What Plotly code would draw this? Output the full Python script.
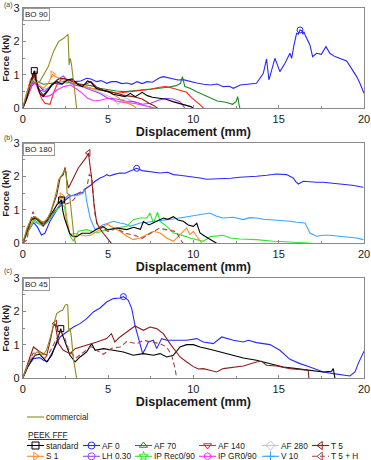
import plotly.graph_objects as go

# ======================= DATA =======================
# ---- panel (a) BO 90 ----
A_COMM_X = [0, 0.25, 0.55, 0.75, 1.0, 1.3, 1.5, 1.8, 2.1, 2.4, 2.58, 2.66, 2.72, 2.78, 2.85, 2.92, 3.05, 3.16]
A_COMM_Y = [0, 0.45, 0.85, 0.75, 0.8, 1.05, 1.25, 1.7, 2.0, 2.1, 2.2, 2.22, 1.3, 1.5, 1.35, 1.1, 0.5, 0]
A_STD_X = [0, 0.2, 0.45, 0.68, 0.8, 1.0, 1.2, 1.45, 1.7, 2.0, 2.3, 2.6, 2.9, 3.2, 3.5, 3.8, 4.0, 4.3, 4.6, 5.0, 5.3, 5.6,
           6.0, 6.3, 6.6, 7.0, 7.3, 7.6, 8.0, 8.4, 8.8, 9.2, 9.6, 9.85, 10.0]
A_STD_Y = [0, 0.25, 0.75, 1.13, 0.8, 0.45, 0.35, 0.5, 0.7, 0.8, 0.72, 0.85, 0.88, 0.72, 0.65, 0.82, 0.78, 0.6, 0.55, 0.5,
           0.42, 0.38, 0.35, 0.45, 0.35, 0.48, 0.38, 0.33, 0.3, 0.27, 0.2, 0.15, 0.1, 0.05, 0]
A_AF0_X = [0, 0.25, 0.5, 0.7, 0.9, 1.2, 1.5, 1.8, 2.2, 2.6, 3.0, 3.4, 3.75, 4.0, 4.34, 4.6, 4.92, 5.2, 5.5, 5.8, 6.1, 6.4,
           6.7, 7.0, 7.3, 7.6, 7.85, 8.05, 8.25, 8.5, 8.85, 9.1, 9.4, 9.8, 10.2, 10.6, 11.0, 11.4, 11.75, 12.1, 12.35,
           12.75, 13.2, 13.7, 14.1, 14.29, 14.43, 14.6, 14.78, 15.07, 15.37, 15.66, 15.76, 15.9, 16.05, 16.15, 16.25,
           16.35, 16.42, 16.48, 16.55, 16.83, 16.99, 17.22, 17.5, 17.77, 18.0, 18.3, 18.6, 18.98, 19.2, 19.57, 19.76, 20.0]
A_AF0_Y = [0, 0.35, 0.65, 0.78, 0.7, 0.55, 0.6, 0.75, 0.72, 0.85, 0.8, 0.82, 0.9, 0.88, 0.8, 0.83, 0.75, 0.8, 0.8, 0.74,
           0.76, 0.72, 0.8, 0.74, 0.8, 0.78, 0.85, 0.92, 0.95, 0.92, 0.9, 0.85, 0.86, 0.8, 0.76, 0.72, 0.7, 0.73, 0.65,
           0.66, 0.6, 0.7, 0.72, 0.75, 1.05, 1.48, 0.85, 1.2, 1.5, 1.1, 1.35, 1.65, 1.5, 1.9, 2.25, 2.22, 2.35, 2.33,
           2.22, 2.3, 2.2, 1.9, 1.55, 1.65, 1.62, 1.85, 1.65, 1.55, 1.5, 1.42, 1.25, 0.95, 0.75, 0.45]
A_AF70_X = [0, 0.25, 0.5, 0.7, 0.9, 1.2, 1.6, 2.0, 2.5, 3.0, 3.5, 4.0, 4.5, 5.0, 5.5, 6.0, 6.5, 7.0, 7.5, 8.0, 8.5, 9.0,
            9.25, 9.36, 9.5, 9.8, 10.2, 10.6, 11.0, 11.4, 11.9, 12.3, 12.5, 12.6, 12.68, 12.73]
A_AF70_Y = [0, 0.3, 0.65, 0.9, 0.8, 0.72, 0.75, 0.78, 0.8, 0.75, 0.72, 0.68, 0.6, 0.55, 0.52, 0.5, 0.52, 0.55, 0.57, 0.6,
            0.63, 0.68, 0.75, 0.95, 0.65, 0.6, 0.5, 0.4, 0.32, 0.22, 0.18, 0.12, 0.2, 0.35, 0.1, 0]
A_AF140_X = [0, 0.2, 0.45, 0.7, 0.9, 1.1, 1.3, 1.6, 1.8, 2.0, 2.3, 2.6, 3.0, 3.3, 3.6, 4.0, 4.5, 5.0, 5.5, 6.0, 6.5, 7.0,
             7.5, 8.0, 8.4, 8.8, 9.2, 9.6, 9.9, 10.2, 10.45, 10.6]
A_AF140_Y = [0, 0.35, 0.85, 1.05, 0.6, 0.3, 0.15, 0.12, 0.45, 0.7, 0.9, 0.85, 0.8, 0.7, 0.65, 0.6, 0.55, 0.52, 0.45, 0.48,
             0.5, 0.55, 0.57, 0.63, 0.65, 0.6, 0.55, 0.48, 0.32, 0.2, 0.08, 0]
A_AF280_X = [0, 0.3, 0.7, 1.0, 1.3, 1.7, 2.0, 2.5, 3.0, 3.5, 4.0, 4.5, 5.0, 5.3, 5.6, 5.8, 6.1, 6.5, 7.0, 7.4, 7.6]
A_AF280_Y = [0, 0.45, 0.95, 0.7, 0.55, 0.7, 0.8, 0.75, 0.72, 0.65, 0.6, 0.48, 0.38, 0.3, 0.12, 0.25, 0.3, 0.2, 0.12, 0.05, 0]
A_T5_X = [0, 0.25, 0.5, 0.7, 0.9, 1.2, 1.5, 1.8, 2.1, 2.4, 2.7, 3.0, 3.3, 3.6, 4.0, 4.3, 4.7, 5.0, 5.5, 6.0, 6.5, 7.0, 7.4,
          7.7, 7.9]
A_T5_Y = [0, 0.3, 0.8, 1.0, 0.6, 0.4, 0.55, 0.75, 0.88, 0.9, 0.85, 0.8, 0.72, 0.7, 0.8, 0.65, 0.55, 0.5, 0.45, 0.38, 0.35,
          0.28, 0.15, 0.08, 0]
A_S1_X = [0, 0.2, 0.5, 0.7, 0.9, 1.2, 1.5, 1.75, 1.9, 2.1, 2.4, 2.8, 3.2, 3.6, 4.0, 4.5, 5.0, 5.3, 5.6, 5.9, 6.2, 6.5, 6.65]
A_S1_Y = [0, 0.4, 0.85, 0.9, 0.7, 0.6, 0.75, 1.02, 0.95, 0.9, 0.85, 0.8, 0.75, 0.65, 0.6, 0.55, 0.5, 0.42, 0.32, 0.2, 0.15,
          0.08, 0]
A_LH_X = [0, 0.3, 0.6, 0.8, 1.0, 1.3, 1.7, 2.0, 2.38, 2.7, 3.0, 3.5, 4.0, 4.5, 5.0, 5.5, 6.0, 6.5, 7.0, 7.5, 8.0, 8.4, 8.8,
          9.2, 9.4, 9.5]
A_LH_Y = [0, 0.45, 0.8, 0.75, 0.55, 0.5, 0.7, 0.85, 0.97, 0.8, 0.7, 0.65, 0.55, 0.45, 0.3, 0.28, 0.22, 0.2, 0.12, 0.15, 0.25,
          0.3, 0.28, 0.2, 0.08, 0]
A_GR_X = [0, 0.3, 0.55, 0.75, 1.0, 1.3, 1.6, 2.0, 2.4, 2.8, 3.1, 3.5, 3.8, 4.2, 4.6, 5.0, 5.5, 6.0, 6.5, 7.0, 7.5, 7.8]
A_GR_Y = [0, 0.35, 0.7, 0.75, 0.45, 0.35, 0.38, 0.55, 0.65, 0.7, 0.6, 0.45, 0.3, 0.22, 0.25, 0.3, 0.22, 0.17, 0.15, 0.1,
          0.05, 0]

# ---- panel (b) BO 180 ----
B_COMM_X = [0, 0.25, 0.5, 0.7, 0.95, 1.2, 1.45, 1.65, 1.85, 2.0, 2.1, 2.2, 2.35, 2.48, 2.55, 2.6, 2.75, 2.85, 3.0, 3.1]
B_COMM_Y = [0, 0.45, 0.75, 0.8, 0.72, 0.62, 0.75, 0.95, 1.3, 1.6, 1.9, 1.98, 2.1, 2.2, 2.15, 1.5, 1.45, 0.9, 0.2, 0]
B_STD_X = [0, 0.25, 0.5, 0.75, 1.1, 1.4, 1.7, 2.0, 2.28, 2.34, 2.45, 2.58, 2.75, 2.9, 3.16, 3.46, 3.95, 4.34, 4.7, 5.0,
           5.5, 6.1, 6.5, 6.9, 7.07, 7.4, 7.66, 8.0, 8.24, 8.5, 8.83, 9.1, 9.41, 9.7, 10.0, 10.2, 10.39, 10.68, 10.97,
           11.2, 11.36]
B_STD_Y = [0, 0.35, 0.7, 0.76, 0.6, 0.65, 0.9, 1.15, 1.3, 1.0, 0.75, 0.55, 0.3, 0.22, 0.2, 0.3, 0.3, 0.42, 0.5, 0.4,
           0.46, 0.41, 0.48, 0.42, 0.65, 0.55, 0.61, 0.68, 0.76, 0.72, 0.8, 0.7, 0.66, 0.55, 0.51, 0.6, 0.31, 0.21, 0.11,
           0.05, 0]
B_AF0_X = [0, 0.3, 0.63, 0.85, 1.1, 1.3, 1.6, 1.9, 2.19, 2.5, 2.77, 3.0, 3.26, 3.5, 3.75, 4.0, 4.24, 4.53, 4.75, 4.92,
           5.1, 5.31, 5.7, 6.0, 6.29, 6.68, 7.0, 7.27, 7.7, 8.05, 8.5, 8.83, 9.2, 9.61, 10.0, 10.39, 10.78, 11.3, 11.75,
           12.2, 12.73, 13.2, 13.7, 14.3, 14.88, 15.46, 15.7, 15.85, 16.0, 16.15, 16.44, 16.8, 17.22, 17.6, 18.0, 18.4,
           18.78, 19.3, 19.96]
B_AF0_Y = [0, 0.35, 0.62, 0.5, 0.25, 0.3, 0.66, 0.9, 1.16, 1.3, 1.41, 1.45, 1.5, 1.52, 1.66, 1.75, 1.86, 1.96, 2.0, 2.06,
           2.02, 2.06, 2.11, 2.1, 2.16, 2.25, 2.18, 2.16, 2.12, 2.11, 2.13, 2.06, 2.04, 2.01, 2.0, 1.96, 1.92, 1.93, 1.94,
           1.95, 1.98, 1.99, 2.01, 2.04, 2.08, 2.06, 2.0, 1.96, 1.85, 1.78, 1.86, 1.84, 1.83, 1.83, 1.81, 1.8, 1.76,
           1.74, 1.68]
B_S1_X = [0, 0.3, 0.65, 0.9, 1.2, 1.6, 1.9, 2.1, 2.28, 2.45, 2.6, 2.77, 3.0, 3.36, 3.7, 4.0, 4.53, 4.92, 5.31, 5.7, 6.1,
          6.48, 6.88, 7.27, 7.66, 8.05, 8.44, 8.83, 9.22, 9.61, 9.8, 10.0, 10.2, 10.39, 10.5]
B_S1_Y = [0, 0.4, 0.72, 0.7, 0.58, 0.8, 1.05, 1.3, 1.41, 1.3, 0.7, 0.26, 0.3, 0.26, 0.22, 0.25, 0.41, 0.58, 0.46, 0.36,
          0.21, 0.11, 0.16, 0.26, 0.36, 0.31, 0.16, 0.06, 0.26, 0.46, 0.26, 0.36, 0.21, 0.06, 0]
B_REC_X = [0, 0.3, 0.65, 0.9, 1.2, 1.6, 2.0, 2.3, 2.45, 2.58, 2.8, 2.97, 3.26, 3.75, 4.34, 4.92, 5.5, 6.1, 6.48, 6.88,
           7.27, 7.46, 7.66, 7.9, 8.05, 8.44, 8.83, 9.22, 9.8, 10.58, 11.0, 11.75, 12.14, 12.73, 13.7, 14.68, 15.66,
           16.64, 16.93]
B_REC_Y = [0, 0.35, 0.7, 0.62, 0.55, 0.75, 1.0, 1.15, 1.1, 0.6, 0.2, 0.06, 0.36, 0.41, 0.31, 0.41, 0.46, 0.51, 0.71,
           0.76, 0.76, 0.91, 0.61, 0.93, 0.66, 0.51, 0.31, 0.26, 0.16, 0.06, 0.2, 0.24, 0.16, 0.13, 0.11, 0.06, 0.04,
           0.01, 0]
B_V10_X = [0, 0.3, 0.65, 0.9, 1.2, 1.5, 1.8, 2.1, 2.4, 2.7, 3.0, 3.3, 3.55, 3.65, 3.75, 3.95, 4.1, 4.24, 4.5, 4.72, 5.0,
           5.31, 5.7, 6.0, 6.29, 6.6, 6.88, 7.3, 7.66, 8.05, 8.44, 8.83, 9.22, 9.6, 10.0, 10.39, 10.97, 11.36, 11.75,
           12.34, 12.93, 13.3, 13.7, 14.1, 14.49, 14.9, 15.27, 15.7, 16.05, 16.54, 16.7, 16.83, 17.22, 17.6, 18.0,
           18.4, 18.78, 19.2, 19.57, 19.96]
B_V10_Y = [0, 0.35, 0.65, 0.6, 0.52, 0.65, 0.9, 1.1, 1.3, 1.45, 1.42, 1.45, 1.51, 1.65, 1.26, 0.76, 0.55, 0.41, 0.48,
           0.56, 0.6, 0.66, 0.61, 0.58, 0.51, 0.56, 0.61, 0.63, 0.66, 0.68, 0.71, 0.73, 0.76, 0.8, 0.82, 0.86, 0.91,
           0.81, 0.76, 0.78, 0.71, 0.77, 0.76, 0.72, 0.71, 0.7, 0.68, 0.66, 0.63, 0.61, 0.45, 0.31, 0.21, 0.24, 0.24,
           0.22, 0.21, 0.18, 0.16, 0.11]
B_T5_X = [0, 0.25, 0.45, 0.65, 0.9, 1.2, 1.6, 2.0, 2.19, 2.38, 2.48, 2.58, 2.68, 2.97, 3.26, 3.55, 3.75, 3.85, 3.95,
          4.04, 4.18, 4.34, 4.63, 4.92, 5.12, 5.2]
B_T5_Y = [0, 0.35, 0.65, 0.8, 0.72, 0.51, 0.86, 1.46, 1.96, 2.06, 2.28, 1.9, 1.66, 1.96, 2.26, 2.46, 2.6, 2.71, 2.36,
          1.96, 1.16, 0.61, 0.36, 0.16, 0.04, 0]
B_T5H_X = [0, 0.25, 0.4, 0.6, 0.8, 1.0, 1.3, 1.6, 2.0, 2.38, 2.68, 2.97, 3.26, 3.46, 3.75, 3.9, 4.04, 4.24, 4.43, 4.6,
           5.0, 5.5, 6.0, 6.5, 7.0, 7.5, 8.0, 8.5, 9.0, 9.2, 9.4]
B_T5H_Y = [0, 0.1, 0.55, 0.95, 0.75, 0.7, 0.6, 0.8, 1.05, 1.16, 1.2, 1.3, 1.5, 1.56, 1.66, 2.06, 2.0, 0.86, 0.46, 0.5,
           0.35, 0.45, 0.3, 0.25, 0.15, 0.3, 0.45, 0.4, 0.35, 0.15, 0]

# ---- panel (c) BO 45 ----
C_COMM_X = [0, 0.25, 0.5, 0.63, 0.8, 1.0, 1.2, 1.4, 1.6, 1.8, 1.99, 2.19, 2.35, 2.48, 2.58, 2.64, 2.7, 2.78, 2.85, 2.97,
            3.13, 3.16]
C_COMM_Y = [0, 0.35, 0.6, 0.64, 0.78, 0.8, 0.7, 0.85, 1.2, 1.59, 1.94, 2.01, 2.05, 2.19, 2.22, 2.2, 1.4, 1.5, 1.25,
            0.59, 0.04, 0]
C_STD_X = [0, 0.2, 0.43, 0.72, 1.0, 1.41, 1.7, 1.99, 2.23, 2.34, 2.58, 2.77, 3.07, 3.36, 3.75, 4.04, 4.24, 4.73, 5.31,
           5.9, 6.48, 7.07, 7.66, 8.05, 8.44, 8.83, 9.22, 9.61, 10.0, 10.39, 10.97, 11.56, 12.34, 12.93, 13.7, 14.49,
           15.27, 16.05, 16.83, 17.61, 18.1, 18.2, 18.3]
C_STD_Y = [0, 0.25, 0.49, 0.69, 0.72, 0.49, 0.69, 1.09, 1.49, 1.29, 0.94, 0.69, 0.49, 0.64, 0.79, 1.04, 0.84, 0.89, 0.84,
           0.79, 0.69, 0.74, 0.69, 0.74, 0.64, 0.69, 0.94, 1.01, 1.01, 0.94, 0.87, 0.79, 0.69, 0.61, 0.54, 0.44, 0.34,
           0.29, 0.24, 0.19, 0.21, 0.29, 0]
C_AF0_X = [0, 0.3, 0.63, 1.0, 1.21, 1.45, 1.8, 2.19, 2.58, 2.97, 3.36, 3.75, 4.14, 4.53, 4.92, 5.31, 5.7, 5.9, 6.19,
           6.39, 6.58, 6.88, 7.03, 7.2, 7.36, 7.66, 7.85, 8.14, 8.44, 9.02, 9.61, 10.2, 10.58, 11.17, 11.66, 12.34,
           12.93, 13.22, 13.7, 14.49, 15.07, 15.66, 16.25, 16.83, 17.61, 18.2, 18.78, 19.18, 19.47, 19.66, 20.0]
C_AF0_Y = [0, 0.35, 0.59, 0.62, 0.54, 0.5, 0.84, 1.24, 1.39, 1.54, 1.64, 1.79, 1.99, 2.11, 2.29, 2.39, 2.41, 2.45, 2.34,
           2.09, 1.59, 0.99, 0.74, 0.9, 1.09, 1.14, 0.89, 1.19, 1.14, 1.14, 1.14, 1.19, 1.09, 1.04, 1.24, 1.14, 1.09,
           1.14, 1.07, 1.01, 0.84, 0.57, 0.44, 0.34, 0.19, 0.14, 0.09, 0.07, 0.19, 0.44, 0.81]
C_T5_X = [0, 0.2, 0.43, 0.63, 1.02, 1.41, 1.6, 1.8, 1.9, 2.1, 2.38, 2.77, 3.07, 3.75, 4.34, 4.92, 5.2, 5.4, 5.7, 6.1,
          6.58, 7.07, 7.46, 7.85, 8.24, 8.63, 9.02, 9.22, 9.61, 10.0, 10.29, 10.58, 10.97, 11.36, 11.75, 12.34, 12.93,
          13.7, 14.0, 14.29, 14.88, 15.66, 16.25, 16.73, 16.77]
C_T5_Y = [0, 0.3, 0.6, 0.94, 0.79, 0.69, 1.1, 1.59, 1.64, 1.04, 0.84, 0.74, 0.89, 0.99, 1.09, 1.19, 1.34, 1.09, 1.24,
          1.39, 1.57, 1.44, 1.54, 1.49, 1.34, 1.04, 0.79, 0.64, 0.49, 0.35, 0.28, 0.29, 0.24, 0.19, 0.29, 0.34, 0.37,
          0.49, 0.51, 0.39, 0.37, 0.29, 0.27, 0.24, 0]
C_T5H_X = [0, 0.3, 0.6, 0.9, 1.3, 1.6, 1.9, 2.2, 2.4, 2.7, 3.1, 3.5, 4.0, 4.3, 4.73, 5.2, 5.7, 6.1, 6.68, 7.07, 7.66,
           8.05, 8.44, 8.73, 8.93, 9.02]
C_T5H_Y = [0, 0.4, 0.75, 0.78, 0.6, 0.8, 1.1, 1.4, 1.3, 0.85, 0.6, 0.75, 0.95, 0.85, 0.72, 0.9, 0.94, 1.1, 1.04, 1.14,
           1.09, 1.04, 0.94, 0.69, 0.29, 0]

PANEL_TAGS = ["(a)", "(b)", "(c)"]
PANEL_NAMES = ["BO 90", "BO 180", "BO 45"]
X_TICKS = [0, 5, 10, 15, 20]
Y_TICKS = [0, 1, 2, 3]

PANEL_SERIES = [
    [("AF 0", A_AF0_X, A_AF0_Y), ("AF 70", A_AF70_X, A_AF70_Y), ("AF 140", A_AF140_X, A_AF140_Y),
     ("AF 280", A_AF280_X, A_AF280_Y), ("LH 0.30", A_LH_X, A_LH_Y), ("IP GR0/90", A_GR_X, A_GR_Y),
     ("S 1", A_S1_X, A_S1_Y), ("T 5", A_T5_X, A_T5_Y), ("standard", A_STD_X, A_STD_Y),
     ("commercial", A_COMM_X, A_COMM_Y)],
    [("AF 0", B_AF0_X, B_AF0_Y), ("V 10", B_V10_X, B_V10_Y), ("IP Rec0/90", B_REC_X, B_REC_Y),
     ("S 1", B_S1_X, B_S1_Y), ("standard", B_STD_X, B_STD_Y), ("T 5 + H", B_T5H_X, B_T5H_Y),
     ("T 5", B_T5_X, B_T5_Y), ("commercial", B_COMM_X, B_COMM_Y)],
    [("AF 0", C_AF0_X, C_AF0_Y), ("standard", C_STD_X, C_STD_Y), ("T 5 + H", C_T5H_X, C_T5H_Y),
     ("T 5", C_T5_X, C_T5_Y), ("commercial", C_COMM_X, C_COMM_Y)],
]
# series whose peak is flagged with their symbol
PEAK_MARKED = {"standard", "AF 0", "S 1", "T 5"}

LEGEND_ROWS = [["standard", "AF 0", "AF 70", "AF 140", "AF 280", "T 5"],
               ["S 1", "LH 0.30", "IP Rec0/90", "IP GR0/90", "V 10", "T 5 + H"]]

# ======================= STYLE =======================
STYLE = {
    "commercial": dict(color="#8c8c1e", symbol=None, dash="solid"),
    "standard": dict(color="#000000", symbol="square-open", dash="solid"),
    "AF 0": dict(color="#2828ff", symbol="circle-open", dash="solid"),
    "AF 70": dict(color="#1f8a1f", symbol="triangle-up-open", dash="solid"),
    "AF 140": dict(color="#ff2020", symbol="triangle-down-open", dash="solid"),
    "AF 280": dict(color="#c4c4c4", symbol="diamond-open", dash="solid"),
    "T 5": dict(color="#8e1c1c", symbol="triangle-left-open", dash="solid"),
    "S 1": dict(color="#ff8a1e", symbol="triangle-right-open", dash="solid"),
    "LH 0.30": dict(color="#a044ff", symbol="circle-open", dash="solid"),
    "IP Rec0/90": dict(color="#2ee62e", symbol="star-open", dash="solid"),
    "IP GR0/90": dict(color="#ff2eff", symbol="hexagon-open", dash="solid"),
    "V 10": dict(color="#3ca4ff", symbol="cross-thin-open", dash="solid"),
    "T 5 + H": dict(color="#a34444", symbol="triangle-left-open", dash="5px,3px"),
}
FONT = "Arial, Liberation Sans, sans-serif"
W, H = 371, 460
X_DOM = [22.7 / W, 364 / W]
Y_DOMS = [[1 - 108.3 / H, 1 - 8.3 / H], [1 - 243.3 / H, 1 - 143.3 / H], [1 - 378.3 / H, 1 - 278.3 / H]]
TAG_Y = [5.5, 137.5, 270.5]
AXC = "#8a8a8a"
LW = 1.1

fig = go.Figure()

for p, series in enumerate(PANEL_SERIES):
    xa = "x" if p == 0 else f"x{p + 1}"
    ya = "y" if p == 0 else f"y{p + 1}"
    for name, xs, ys in series:
        st = STYLE[name]
        fig.add_trace(go.Scatter(x=xs, y=ys, mode="lines", xaxis=xa, yaxis=ya, showlegend=False,
                                 line=dict(color=st["color"], width=LW, dash=st["dash"])))
        if name in PEAK_MARKED and st["symbol"]:
            k = max(range(len(ys)), key=lambda i: ys[i])
            fig.add_trace(go.Scatter(x=[xs[k]], y=[ys[k]], mode="markers", xaxis=xa, yaxis=ya,
                                     showlegend=False,
                                     marker=dict(symbol=st["symbol"], size=6, color=st["color"],
                                                 line=dict(color=st["color"], width=1))))

axis_common = dict(showline=True, linecolor=AXC, linewidth=1, mirror=True, showgrid=False, zeroline=False,
                   ticks="inside", ticklen=3, tickcolor=AXC, automargin=False, ticklabeloverflow="allow",
                   tickfont=dict(size=11, color="#1a1a1a", family=FONT))
layout = dict(width=W, height=H, margin=dict(l=0, r=0, t=0, b=0), paper_bgcolor="white",
              plot_bgcolor="white", showlegend=False, font=dict(family=FONT, color="#1a1a1a"))
annotations = []
for p in range(3):
    xk = "xaxis" if p == 0 else f"xaxis{p + 1}"
    yk = "yaxis" if p == 0 else f"yaxis{p + 1}"
    ya = "y" if p == 0 else f"y{p + 1}"
    xa = "x" if p == 0 else f"x{p + 1}"
    layout[xk] = dict(axis_common, domain=X_DOM, range=[0, 20], tickvals=X_TICKS, anchor=ya,
                      minor=dict(dtick=2.5, tick0=0, ticks="inside", ticklen=2, tickcolor=AXC),
                      title=dict(text="<b>Displacement (mm)</b>", font=dict(size=12.5, family=FONT),
                                 standoff=2))
    layout[yk] = dict(axis_common, domain=Y_DOMS[p], range=[0, 3], tickvals=Y_TICKS, anchor=xa,
                      minor=dict(dtick=0.5, tick0=0, ticks="inside", ticklen=2, tickcolor=AXC),
                      title=dict(text="<b>Force (kN)</b>", font=dict(size=9.5, family=FONT), standoff=2))
    annotations.append(dict(text=PANEL_NAMES[p], xref=f"{xa} domain", yref=f"{ya} domain", x=0, y=1,
                            xanchor="left", yanchor="top", showarrow=False, bgcolor="white",
                            bordercolor="#9a9a9a", borderwidth=1, borderpad=1,
                            font=dict(size=8, family=FONT, color="#1a1a1a")))
    annotations.append(dict(text=PANEL_TAGS[p], xref="paper", yref="paper", x=2 / W, y=1 - TAG_Y[p] / H,
                            xanchor="left", yanchor="middle", showarrow=False,
                            font=dict(size=7, family=FONT, color="#444444")))

# ---------------- legend (drawn on a hidden pixel-scaled axis) ----------------
LEG_TOP = 405
layout["xaxis4"] = dict(domain=[0, 1], range=[0, W], visible=False, fixedrange=True, anchor="y4")
layout["yaxis4"] = dict(domain=[0, (H - LEG_TOP) / H], range=[H, LEG_TOP], visible=False, fixedrange=True,
                        anchor="x4")
LEG_COLS_X = [27, 83, 135, 199, 262, 312]
LEG_ROWS_Y = [445.5, 456.3]
LEG_COMM_Y = 417
LEG_TITLE_Y = 435
SAMPLE = 17


def legend_entry(name, x0, y0):
    st = STYLE[name]
    fig.add_trace(go.Scatter(x=[x0, x0 + SAMPLE], y=[y0, y0], mode="lines", xaxis="x4", yaxis="y4",
                             showlegend=False, hoverinfo="skip",
                             line=dict(color=st["color"], width=LW, dash=st["dash"])))
    if st["symbol"]:
        fig.add_trace(go.Scatter(x=[x0 + SAMPLE / 2], y=[y0], mode="markers", xaxis="x4", yaxis="y4",
                                 showlegend=False, hoverinfo="skip",
                                 marker=dict(symbol=st["symbol"], size=7, color=st["color"],
                                             line=dict(color=st["color"], width=1))))
    annotations.append(dict(text=name, xref="x4", yref="y4", x=x0 + SAMPLE, y=y0, xanchor="left",
                            yanchor="middle", showarrow=False,
                            font=dict(size=8.3, family=FONT, color="#1a1a1a")))


legend_entry("commercial", LEG_COLS_X[0], LEG_COMM_Y)
annotations.append(dict(text="<u>PEEK FFF</u>", xref="x4", yref="y4", x=LEG_COLS_X[0] - 1, y=LEG_TITLE_Y,
                        xanchor="left", yanchor="middle", showarrow=False,
                        font=dict(size=8.3, family=FONT, color="#1a1a1a")))
for r, row in enumerate(LEGEND_ROWS):
    for c, name in enumerate(row):
        legend_entry(name, LEG_COLS_X[c], LEG_ROWS_Y[r])

layout["annotations"] = annotations
fig.update_layout(**layout)
fig.write_html("out.html", config={"displayModeBar": False, "staticPlot": True},
               post_script="document.body.style.margin='0';")
